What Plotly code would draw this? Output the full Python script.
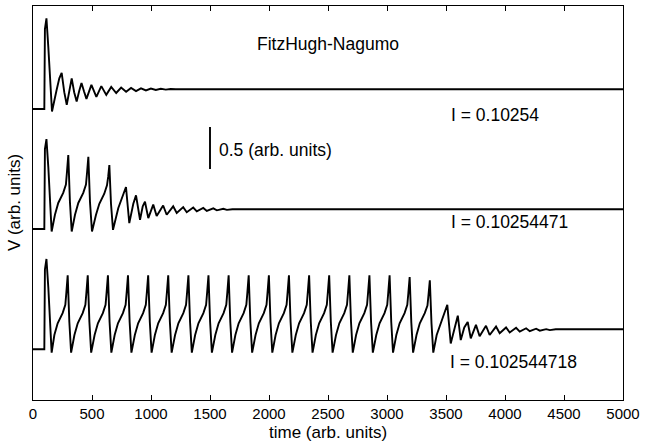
import plotly.graph_objects as go

# ---- data ----
# time axis ticks
tick_vals = [0, 500, 1000, 1500, 2000, 2500, 3000, 3500, 4000, 4500, 5000]
tick_text = ["0", "500", "1000", "1500", "2000", "2500", "3000", "3500", "4000", "4500", "5000"]

# vertical offsets used to stack the three traces (arb. units)
offsets = [2.861, 1.432, 0.0]
labels = ["I = 0.10254", "I = 0.10254471", "I = 0.102544718"]

# trace 1 : I = 0.10254 (one spike, then damped oscillation)
t1 = [0, 96, 101, 114, 130, 144, 161, 200, 223, 243, 265, 286, 307, 328, 349, 370,
      391, 411, 432, 453, 495, 537, 579, 621, 663, 705, 747, 789, 831, 873, 915, 957,
      999, 1041, 1083, 1125, 1167, 1210, 5000]
v1 = [0, 0, 0.95, 1.08, 0.73, 0.33, -0.03, 0.226, 0.365, 0.43, 0.20, 0.05, 0.22, 0.365, 0.20, 0.09,
      0.21, 0.31, 0.21, 0.12, 0.287, 0.145, 0.272, 0.168, 0.262, 0.19, 0.255, 0.205, 0.25, 0.213, 0.246, 0.22,
      0.243, 0.226, 0.24, 0.23, 0.238, 0.235, 0.235]

# trace 2 : I = 0.10254471 (four spikes, then damped oscillation)
t2 = [0, 96, 101, 114, 130, 144, 158,
      186, 214, 256, 279, 288, 299, 313, 328,
      356, 384, 426, 449, 458, 469, 483, 500,
      534, 562, 604, 627, 637, 647, 661, 678,
      723, 765, 788, 816, 850, 873, 907, 930, 949, 977, 1019, 1048, 1103, 1133,
      1188, 1218, 1273, 1303, 1358, 1388, 1443, 1473, 1528, 1558, 1613, 1643, 1690, 5000]
v2 = [0, 0, 0.95, 1.07, 0.73, 0.325, -0.03,
      0.17, 0.31, 0.43, 0.53, 0.68, 0.88, 0.325, -0.03,
      0.17, 0.31, 0.43, 0.53, 0.67, 0.86, 0.32, -0.03,
      0.17, 0.30, 0.42, 0.52, 0.62, 0.76, 0.30, -0.01,
      0.25, 0.40, 0.50, 0.07, 0.30, 0.40, 0.11, 0.27, 0.325, 0.13, 0.29, 0.155, 0.28, 0.17,
      0.27, 0.19, 0.26, 0.20, 0.255, 0.21, 0.25, 0.215, 0.245, 0.222, 0.24, 0.228, 0.235, 0.235]

# trace 3 : I = 0.102544718 (twenty spikes, then damped oscillation)
t3 = [0, 96, 101, 114, 130, 144, 158,
      181, 209, 251, 274, 283, 294, 308, 323,
      351, 379, 421, 444, 453, 464, 478, 493,
      522, 550, 592, 615, 624, 635, 649, 664,
      692, 720, 762, 785, 794, 805, 819, 834,
      863, 891, 933, 956, 965, 976, 990, 1005,
      1033, 1061, 1103, 1126, 1135, 1146, 1160, 1175,
      1204, 1232, 1274, 1297, 1306, 1317, 1331, 1346,
      1374, 1402, 1444, 1467, 1476, 1487, 1501, 1516,
      1545, 1573, 1615, 1638, 1647, 1658, 1672, 1687,
      1715, 1743, 1785, 1808, 1817, 1828, 1842, 1857,
      1886, 1914, 1956, 1979, 1988, 1999, 2013, 2028,
      2056, 2084, 2126, 2149, 2158, 2169, 2183, 2198,
      2227, 2255, 2297, 2320, 2329, 2340, 2354, 2369,
      2397, 2425, 2467, 2490, 2499, 2510, 2524, 2539,
      2568, 2596, 2638, 2661, 2670, 2681, 2695, 2710,
      2738, 2766, 2808, 2831, 2840, 2851, 2865, 2880,
      2909, 2937, 2979, 3002, 3011, 3022, 3036, 3051,
      3079, 3107, 3149, 3172, 3181, 3192, 3206, 3221,
      3250, 3278, 3320, 3343, 3352, 3363, 3377, 3392,
      3421, 3463, 3492, 3511, 3540, 3575, 3600, 3625, 3655, 3684, 3710, 3754, 3785,
      3839, 3870, 3924, 3955, 4009, 4040, 4094, 4125, 4179, 4210, 4264, 4295, 4349, 4380,
      4430, 5000]
v3 = [0, 0, 0.95, 1.075, 0.73, 0.325, -0.04,
      0.17, 0.31, 0.43, 0.53, 0.68, 0.88, 0.325, -0.04,
      0.17, 0.31, 0.43, 0.53, 0.68, 0.88, 0.325, -0.04,
      0.17, 0.31, 0.43, 0.53, 0.68, 0.88, 0.325, -0.04,
      0.17, 0.31, 0.43, 0.53, 0.68, 0.88, 0.325, -0.04,
      0.17, 0.31, 0.43, 0.53, 0.68, 0.88, 0.325, -0.04,
      0.17, 0.31, 0.43, 0.53, 0.68, 0.88, 0.325, -0.04,
      0.17, 0.31, 0.43, 0.53, 0.68, 0.88, 0.325, -0.04,
      0.17, 0.31, 0.43, 0.53, 0.68, 0.88, 0.325, -0.04,
      0.17, 0.31, 0.43, 0.53, 0.68, 0.88, 0.325, -0.04,
      0.17, 0.31, 0.43, 0.53, 0.68, 0.88, 0.325, -0.04,
      0.17, 0.31, 0.43, 0.53, 0.68, 0.88, 0.325, -0.04,
      0.17, 0.31, 0.43, 0.53, 0.68, 0.88, 0.325, -0.04,
      0.17, 0.31, 0.43, 0.53, 0.68, 0.88, 0.325, -0.04,
      0.17, 0.31, 0.43, 0.53, 0.68, 0.88, 0.325, -0.04,
      0.17, 0.31, 0.43, 0.53, 0.68, 0.88, 0.325, -0.04,
      0.17, 0.31, 0.43, 0.53, 0.68, 0.88, 0.325, -0.04,
      0.17, 0.31, 0.43, 0.53, 0.68, 0.88, 0.325, -0.04,
      0.17, 0.31, 0.43, 0.53, 0.67, 0.86, 0.32, -0.04,
      0.17, 0.31, 0.43, 0.52, 0.65, 0.82, 0.31, -0.04,
      0.17, 0.35, 0.47, 0.53, 0.07, 0.28, 0.40, 0.11, 0.26, 0.325, 0.13, 0.29, 0.155,
      0.28, 0.17, 0.27, 0.19, 0.26, 0.20, 0.255, 0.21, 0.25, 0.215, 0.245, 0.222, 0.24, 0.228,
      0.238, 0.238]

# 0.5-unit scale bar
scale_t = [1500, 1500]
scale_v = [2.146, 2.646]

series = [(t1, v1), (t2, v2), (t3, v3)]

FONT = "Liberation Sans, Arial, Helvetica, sans-serif"

fig = go.Figure()
for (t, v), off in zip(series, offsets):
    fig.add_trace(go.Scatter(x=t, y=[val + off for val in v], mode="lines",
                             line=dict(color="black", width=1.9), hoverinfo="skip",
                             showlegend=False))
fig.add_trace(go.Scatter(x=scale_t, y=scale_v, mode="lines",
                         line=dict(color="black", width=1.9), hoverinfo="skip",
                         showlegend=False))

ann = [
    dict(x=2500, y=3.635, text="FitzHugh-Nagumo", xanchor="center", yanchor="middle"),
    dict(x=1559, y=2.372, text="0.5 (arb. units)", xanchor="left", yanchor="middle"),
    dict(x=3525, y=2.789, text=labels[0], xanchor="left", yanchor="middle"),
    dict(x=3525, y=1.515, text=labels[1], xanchor="left", yanchor="middle"),
    dict(x=3517, y=-0.15, text=labels[2], xanchor="left", yanchor="middle"),
]
for a in ann:
    a.update(xref="x", yref="y", showarrow=False, font=dict(family=FONT, size=17.5, color="black"))

ann.append(dict(x=0.5, y=-0.0825, xref="paper", yref="paper", text="time (arb. units)",
                showarrow=False, xanchor="center", yanchor="middle",
                font=dict(family=FONT, size=17, color="black")))
ann.append(dict(x=-0.032, y=0.5, xref="paper", yref="paper", text="V (arb. units)",
                showarrow=False, xanchor="center", yanchor="middle", textangle=-90,
                font=dict(family=FONT, size=17, color="black")))

fig.update_layout(
    width=647, height=442,
    margin=dict(l=33, r=24, t=6, b=42),
    paper_bgcolor="white", plot_bgcolor="white",
    annotations=ann,
    xaxis=dict(range=[0, 5000], tickvals=tick_vals, ticktext=tick_text,
               ticks="inside", ticklen=5, tickcolor="black", tickwidth=1,
               showline=True, linecolor="black", linewidth=1.3, mirror="ticks",
               showgrid=False, zeroline=False,
               tickfont=dict(family=FONT, size=15, color="black")),
    yaxis=dict(range=[-0.604, 4.087], showticklabels=False, ticks="",
               showline=True, linecolor="black", linewidth=1.3, mirror=True,
               showgrid=False, zeroline=False),
)

fig.write_html("out.html", config={"displayModeBar": False},
               post_script="document.body.style.margin='0px';document.body.style.overflow='hidden';")
